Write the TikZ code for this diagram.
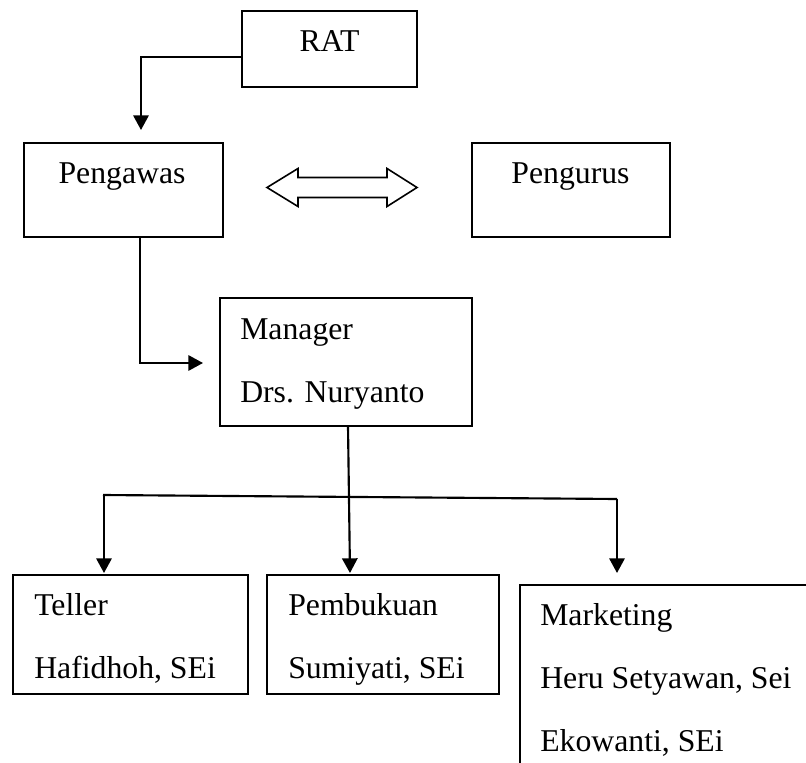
\documentclass[tikz,border=0pt]{standalone}
\usepackage{fontspec}
\setmainfont{Liberation Serif}
\usetikzlibrary{arrows.meta}
\tikzset{
  box/.style={draw, line width=1.35pt, inner sep=0pt, rectangle},
  lbl/.style={inner sep=0pt, font=\fontsize{23.8}{28}\selectfont},
  conn/.style={line width=1.6pt},
  arr/.style={line width=1.6pt, -{Triangle[width=11.5pt,length=11pt]}}
}
\begin{document}
\begin{tikzpicture}[x=0.75pt, y=-0.75pt]
\useasboundingbox (0,0) rectangle (806,763);
% boxes
\node[box, minimum width=131.25pt, minimum height=57pt] (rat) at (329.5,49) {};
\node[box, minimum width=149.25pt, minimum height=70.5pt] (pengawas) at (123.5,190) {};
\node[box, minimum width=148.5pt, minimum height=70.5pt] (pengurus) at (571,190) {};
\node[box, minimum width=189pt, minimum height=96pt] (manager) at (346,362) {};
\node[box, minimum width=176.25pt, minimum height=89.25pt] (teller) at (130.5,634.5) {};
\node[box, minimum width=174pt, minimum height=89.25pt] (pembukuan) at (383,634.5) {};
\coordinate (mktl) at (520,763);
\coordinate (mkt) at (520,585);
\coordinate (mktr) at (806,585);
\draw[line width=1.35pt] (mktl) -- (mkt) -- (mktr);
% texts
\node[lbl, anchor=base] (trat) at (329.5,52) {RAT};
\node[lbl, anchor=base] (tpengawas) at (122,183) {Pengawas};
\node[lbl, anchor=base] (tpengurus) at (570.5,183) {Pengurus};
\node[lbl, anchor=base west] (tman1) at (240,339) {Manager};
\node[lbl, anchor=base west] (tman2) at (240,402) {Drs. Nuryanto};
\node[lbl, anchor=base west] (ttel1) at (34,615) {Teller};
\node[lbl, anchor=base west] (ttel2) at (34,678) {Hafidhoh, SEi};
\node[lbl, anchor=base west] (tpem1) at (288,615) {Pembukuan};
\node[lbl, anchor=base west] (tpem2) at (288,678) {Sumiyati, SEi};
\node[lbl, anchor=base west] (tmkt1) at (540,625) {Marketing};
\node[lbl, anchor=base west] (tmkt2) at (540,688) {Heru Setyawan, Sei};
\node[lbl, anchor=base west] (tmkt3) at (540,751) {Ekowanti, SEi};
% connectors
\coordinate (ratout) at (rat.west |- 0,57);
\coordinate (pwin) at (141,130);
\draw[arr] (ratout) -| (pwin);
\coordinate (pwout) at (140,237);
\coordinate (mgin) at (203,363);
\draw[arr] (pwout) |- (mgin);
% double arrow
\draw[line width=1.2pt, line join=miter] (267,187.5) -- (298,168.5) -- (298,177.5) -- (387,177.5) -- (387,168.5) -- (417,187.5) -- (387,206.5) -- (387,197.5) -- (298,197.5) -- (298,206.5) -- cycle;
% manager to staff
\coordinate (mgout) at (348,426);
\coordinate (busl) at (103,495);
\coordinate (busr) at (617,499);
\coordinate (pemin) at (350,573);
\coordinate (telin) at (104,573);
\coordinate (mktin) at (617,573);
\draw[arr] (mgout) -- (pemin);
\draw[conn] (busl) -- (busr);
\draw[arr] (104,495) -- (telin);
\draw[arr] (busr) -- (mktin);
\end{tikzpicture}
\end{document}
